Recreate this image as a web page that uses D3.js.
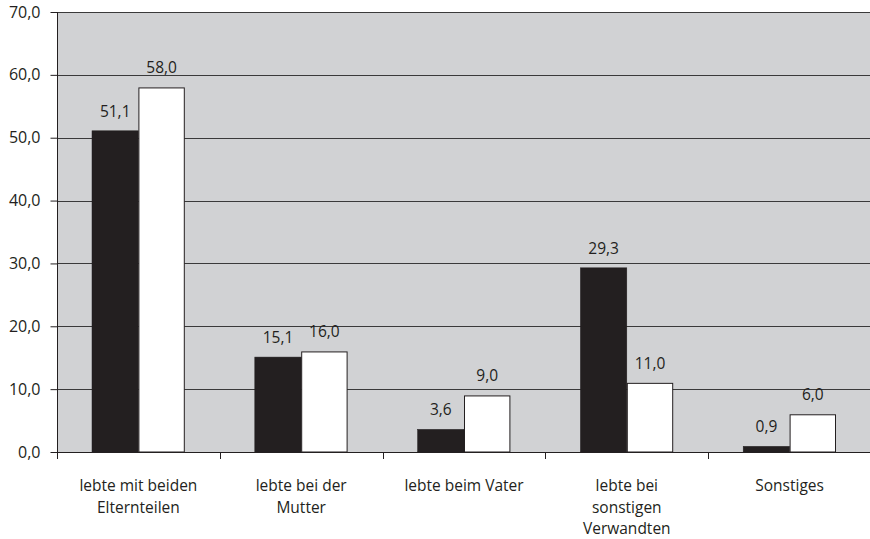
<!DOCTYPE html>
<html><head><meta charset="utf-8">
<script src="https://cdn.jsdelivr.net/npm/d3@7"></script>
<style>body{margin:0;background:#fff}svg{display:block}text{font-family:"Open Sans",sans-serif;fill:#231f20}</style>
</head><body><svg id="c" width="870" height="539"></svg>
<script>
const categories = [["lebte mit beiden","Elternteilen"],["lebte bei der","Mutter"],["lebte beim Vater"],["lebte bei","sonstigen","Verwandten"],["Sonstiges"]];
const seriesA = [51.1, 15.1, 3.6, 29.3, 0.9];
const seriesB = [58.0, 16.0, 9.0, 11.0, 6.0];
const yTicks = [0,10,20,30,40,50,60,70];

const svg = d3.select("#c");
const L = 57, R = 871, T = 12, B = 452;
const FS = 15.5;
const x = d3.scaleBand().domain(d3.range(categories.length)).range([L, R]).paddingInner(0).paddingOuter(0);
const y = d3.scaleLinear().domain([0,70]).range([B, T]);
const fmt = v => d3.format(".1f")(v).replace(".", ",");

svg.append("rect").attr("x", L).attr("y", T).attr("width", R-L).attr("height", B-T).attr("fill", "#d1d2d4");

svg.append("g").selectAll("line").data(yTicks).join("line")
  .attr("x1", L).attr("x2", R).attr("y1", d => Math.round(y(d))+0.5).attr("y2", d => Math.round(y(d))+0.5)
  .attr("stroke", "#3a3a3a").attr("stroke-width", 1);

const bw = x.bandwidth()*0.285;
const g = svg.append("g");
categories.forEach((c,i) => {
  const cx = x(i) + x.bandwidth()/2;
  g.append("rect").attr("x", cx - bw).attr("y", y(seriesA[i])).attr("width", bw).attr("height", B - y(seriesA[i]))
    .attr("fill", "#231f20").attr("stroke","#231f20").attr("stroke-width",0.5);
  g.append("rect").attr("x", cx+0.5).attr("y", y(seriesB[i])+0.5).attr("width", bw-1).attr("height", B - y(seriesB[i]) - 0.5)
    .attr("fill", "#ffffff").attr("stroke","#231f20").attr("stroke-width",1);
  g.append("text").attr("x", cx - bw/2).attr("y", y(seriesA[i]) - 14).attr("text-anchor","middle").attr("font-size",FS).text(fmt(seriesA[i]));
  g.append("text").attr("x", cx + bw/2).attr("y", y(seriesB[i]) - 14).attr("text-anchor","middle").attr("font-size",FS).text(fmt(seriesB[i]));
});

// axes
svg.append("line").attr("x1", L+0.5).attr("x2", L+0.5).attr("y1", T).attr("y2", B).attr("stroke","#231f20");
svg.append("line").attr("x1", L).attr("x2", R).attr("y1", B+0.5).attr("y2", B+0.5).attr("stroke","#231f20");
const yAxis = d3.axisLeft(y).tickValues(yTicks).tickSize(7).tickFormat(fmt);
const ya = svg.append("g").attr("transform", `translate(${L+0.5},0)`).call(yAxis);
ya.select(".domain").remove();
ya.selectAll("line").attr("stroke","#231f20");
ya.selectAll("text").attr("font-size",16).attr("font-family","Open Sans, sans-serif").attr("fill","#231f20").attr("x",-17);

svg.append("g").selectAll("line").data(d3.range(categories.length+1)).join("line")
  .attr("x1", d => Math.round(L + d*x.step())+0.5).attr("x2", d => Math.round(L + d*x.step())+0.5)
  .attr("y1", B).attr("y2", B+7).attr("stroke","#231f20");

categories.forEach((c,i) => {
  const t = svg.append("text").attr("x", x(i)+x.bandwidth()/2).attr("y", 491).attr("text-anchor","middle").attr("font-size",FS);
  c.forEach((s,j) => t.append("tspan").attr("x", x(i)+x.bandwidth()/2).attr("dy", j===0?0:21.5).text(s));
});
</script></body></html>
